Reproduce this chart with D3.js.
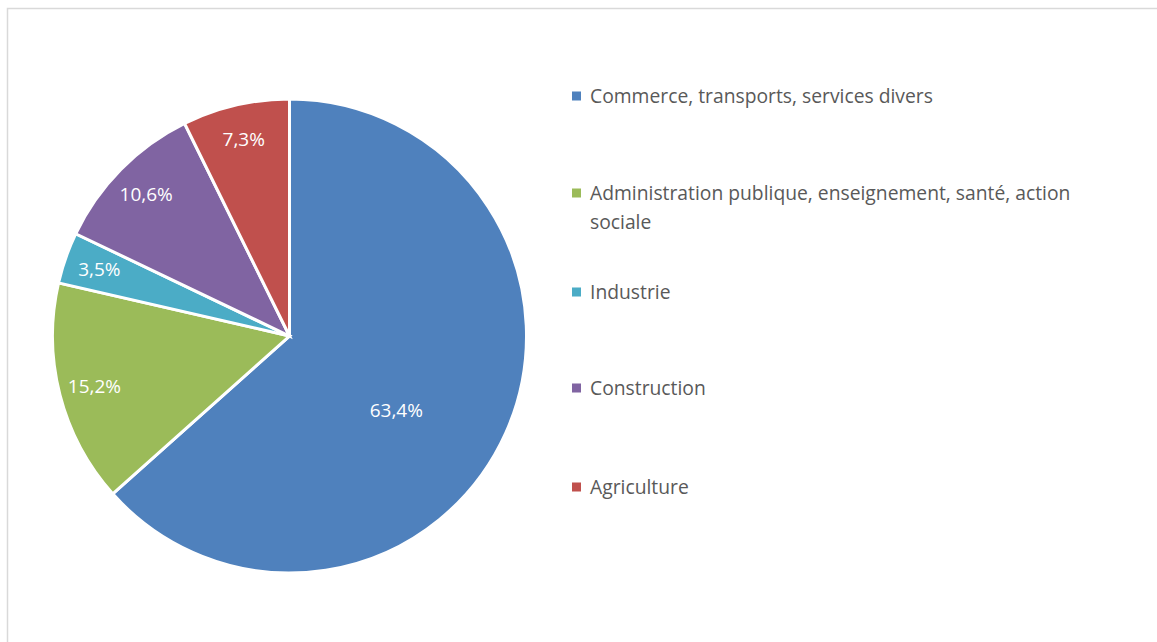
<!DOCTYPE html>
<html>
<head>
<meta charset="utf-8">
<script src="https://cdn.jsdelivr.net/npm/d3@7"></script>
<style>
  body { margin: 0; background: #fff; }
  svg { display: block; }
  text { font-family: "Open Sans", "Noto Sans", sans-serif; }
</style>
</head>
<body>
<div id="chart"></div>
<script>
var categories = ['Commerce, transports, services divers',
        'Administration publique, enseignement, santé, action sociale',
        'Industrie', 'Construction', 'Agriculture'];
var values = [63.4, 15.2, 3.5, 10.6, 7.3];
var colors = ['#4f81bd', '#9bbb59', '#4bacc6', '#8064a2', '#c0504d'];

var width = 1157, height = 642;
var cx = 289.5, cy = 336, radius = 237;

var svg = d3.select('#chart')
    .append('svg')
    .attr('width', width)
    .attr('height', height);

// chart area frame (right and bottom edges fall outside the picture)
svg.append('rect')
    .attr('x', 7.5).attr('y', 8.5)
    .attr('width', width + 10).attr('height', height + 10)
    .attr('fill', 'none')
    .attr('stroke', '#d9d9d9')
    .attr('stroke-width', 1.5);

var pie = d3.pie().sort(null).value(function(d){ return d; });
var arcs = pie(values);
var arc = d3.arc().innerRadius(0).outerRadius(radius);

var g = svg.append('g').attr('transform', 'translate(' + cx + ',' + cy + ')');

g.selectAll('path')
    .data(arcs)
    .enter().append('path')
    .attr('d', arc)
    .attr('fill', function(d, i){ return colors[i]; })
    .attr('stroke', '#fff')
    .attr('stroke-width', 3)
    .attr('stroke-linejoin', 'miter');

// labels: small slices near the rim, the big one closer to the centre (best fit)
g.selectAll('text.lbl')
    .data(arcs)
    .enter().append('text')
    .attr('class', 'lbl')
    .attr('transform', function(d){
        var a = (d.startAngle + d.endAngle) / 2;
        var r = radius * 0.85;
        if (d.value > 50) { r = radius * 0.55; a += 0.19; }
        return 'translate(' + (Math.sin(a) * r) + ',' + (-Math.cos(a) * r) + ')';
    })
    .attr('text-anchor', 'middle')
    .attr('dy', '0.35em')
    .attr('fill', '#fff')
    .attr('font-size', 19)
    .text(function(d){ return d3.format('.1f')(d.value).replace('.', ',') + '%'; });

// legend
var legendY = [96, 193, 292, 388, 487];
var legend = svg.append('g');
categories.forEach(function(name, i){
    var row = legend.append('g').attr('transform', 'translate(572,' + legendY[i] + ')');
    row.append('rect')
        .attr('x', 0).attr('y', -4.5)
        .attr('width', 9).attr('height', 9)
        .attr('fill', colors[i]);
    var t = row.append('text')
        .attr('x', 18)
        .attr('fill', '#595959')
        .attr('font-size', 19.3);
    // wrap words to the legend width
    var words = name.split(' '), line = [];
    var tspan = t.append('tspan').attr('x', 18).attr('dy', '0.35em');
    words.forEach(function(w){
        line.push(w);
        tspan.text(line.join(' '));
        if (tspan.node().getComputedTextLength() > 530 && line.length > 1) {
            line.pop();
            tspan.text(line.join(' '));
            line = [w];
            tspan = t.append('tspan').attr('x', 18).attr('dy', 29).text(w);
        }
    });
});
</script>
</body>
</html>
